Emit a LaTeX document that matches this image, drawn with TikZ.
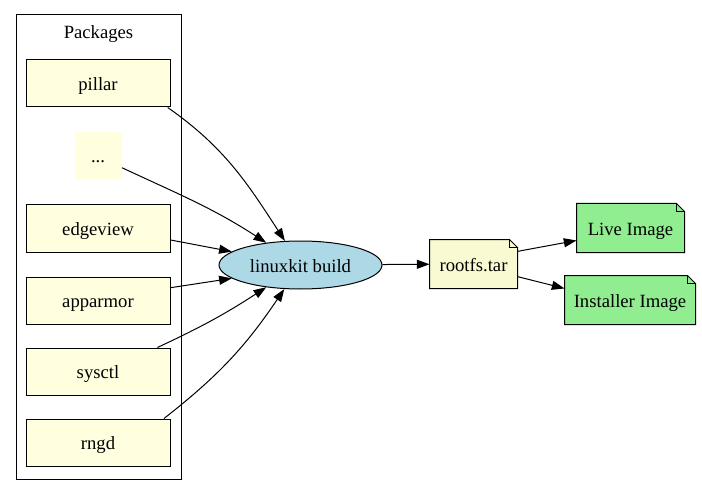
\documentclass[tikz,border=0pt]{standalone}
\usepackage{fontspec}
\setmainfont{Liberation Serif}
\usetikzlibrary{arrows.meta,shapes.geometric}
\definecolor{pkgyellow}{HTML}{FFFFE0}
\definecolor{taryellow}{HTML}{FAFAD2}
\definecolor{imggreen}{HTML}{90EE90}
\definecolor{buildblue}{HTML}{ADD8E6}

% folded top-right corner for note nodes
\newcommand{\notefold}[1]{%
  \fill[white] ([xshift=-6pt]#1.north east) -- (#1.north east) -- ([yshift=-6pt]#1.north east) -- cycle;
  \draw (#1.south west) -- (#1.south east) -- ([yshift=-6pt]#1.north east)
    -- ([xshift=-6pt]#1.north east) -- (#1.north west) -- cycle;
  \draw ([xshift=-6pt]#1.north east) -- ([xshift=-6pt,yshift=-6pt]#1.north east)
    -- ([yshift=-6pt]#1.north east);
}

\begin{document}
\begin{tikzpicture}[
    x=0.75pt, y=-0.75pt,
    line width=0.75pt,
    font=\fontsize{14}{16}\selectfont,
    every node/.style={text height=14pt, text depth=3pt},
    cluster/.style={draw, minimum width=123.75pt, minimum height=348pt, inner sep=0pt},
    package/.style={draw, fill=pkgyellow, minimum width=108pt, minimum height=35.25pt, inner sep=0pt},
    hidden/.style={fill=pkgyellow, minimum width=35.25pt, minimum height=35.25pt, inner sep=0pt},
    build/.style={draw, ellipse, fill=buildblue, minimum width=122.25pt, minimum height=36pt, inner sep=0pt},
    note/.style={fill=#1, minimum height=36pt, inner sep=0pt},
    flow/.style={-{Triangle[length=9.5pt,width=6.75pt]}}
  ]
    \useasboundingbox (0,0) rectangle (702,495);

    \node[cluster, text height=, text depth=] (packages) at (98.5,247) {};
    \node (pkglabel) at (98.5,31) {Packages};

    \node[package] (pillar) at (98,83.5) {pillar};
    \node[hidden] (dots) at (98,155.5) {...};
    \node[package] (edgeview) at (98,228.5) {edgeview};
    \node[package] (apparmor) at (98,300.5) {apparmor};
    \node[package] (sysctl) at (98,371.5) {sysctl};
    \node[package] (rngd) at (98,442.5) {rngd};

    \node[build] (build) at (300.5,265) {linuxkit build};
    \node[note=taryellow, minimum width=65.25pt] (rootfs) at (473.5,264) {rootfs.tar};
    \node[note=imggreen, minimum width=80.25pt] (live) at (630.5,228) {Live Image};
    \node[note=imggreen, minimum width=97.5pt] (installer) at (630,300) {Installer Image};
    \notefold{rootfs}
    \notefold{live}
    \notefold{installer}

    \draw[flow] (pillar.-19) to[out=-35,in=123] (build);
    \draw[flow] (dots.-27) to[out=-25,in=147] (build);
    \draw[flow] (edgeview.-9) -- (build.169);
    \draw[flow] (apparmor.10) -- (build.191);
    \draw[flow] (sysctl.22) to[out=25,in=213] (build);
    \draw[flow] (rngd.20) to[out=38,in=236] (build);

    \draw[flow] (build) -- (rootfs);
    \draw[flow] (rootfs.16) -- (live.193);
    \draw[flow] (rootfs.-16) -- (installer.170);
  \end{tikzpicture}
\end{document}
